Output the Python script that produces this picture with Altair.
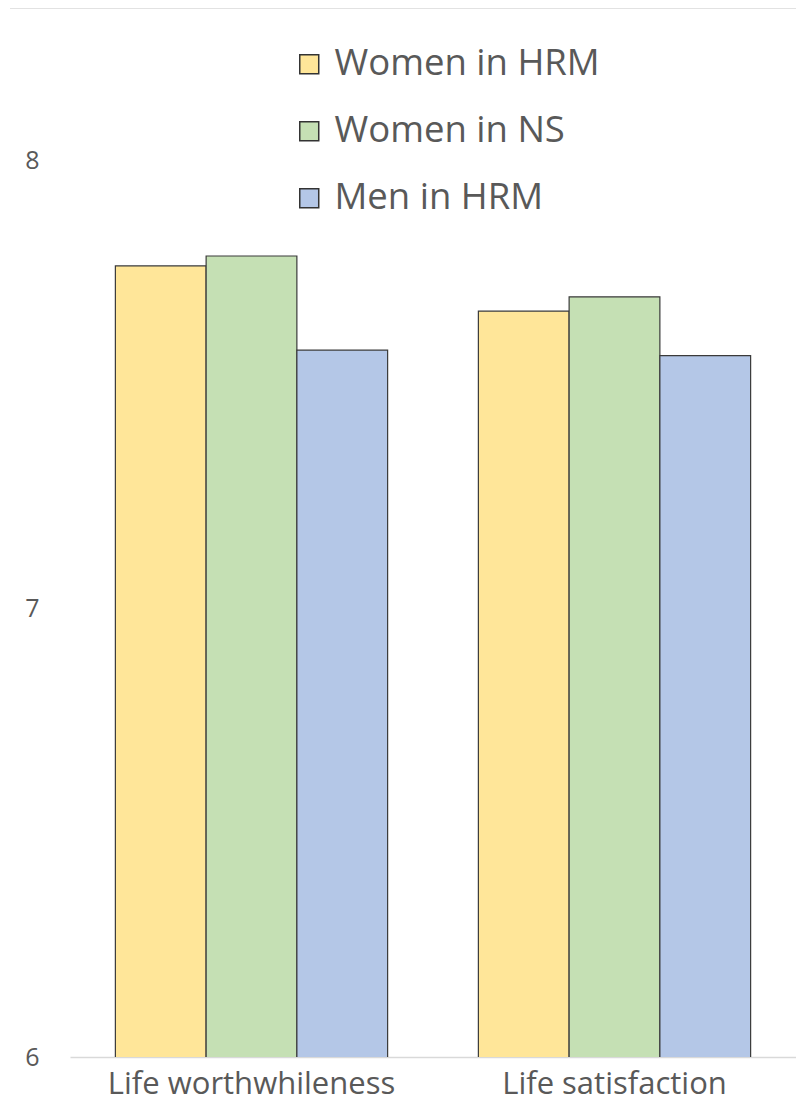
import altair as alt
import pandas as pd

categories = ["Life worthwhileness", "Life satisfaction"]
groups = ["Women in HRM", "Women in NS", "Men in HRM"]
women_hrm = [7.764, 7.663]
women_ns = [7.786, 7.695]
men_hrm = [7.576, 7.564]
colors = ["#FFE699", "#C5E0B4", "#B4C7E7"]
y_ticks = [6, 7, 8]

rows = []
for series, vals in zip(groups, [women_hrm, women_ns, men_hrm]):
    for c, v in zip(categories, vals):
        rows.append({"category": c, "group": series, "value": v})
df = pd.DataFrame(rows)

FONT = "Open Sans"
GRAY = "#595959"

bars = alt.Chart(df).mark_bar(stroke="#3a3a3a", strokeWidth=1.2, clip=True).encode(
    x=alt.X("category:N", sort=categories, title=None,
            scale=alt.Scale(paddingInner=0.25, paddingOuter=0.125),
            axis=alt.Axis(labelAngle=0, labelFontSize=31, labelFont=FONT,
                          labelColor=GRAY, ticks=False, domainColor="#D9D9D9",
                          domainWidth=1.5, labelPadding=12, labelLimit=400)),
    xOffset=alt.XOffset("group:N", sort=groups),
    y=alt.Y("value:Q", title=None,
            scale=alt.Scale(domain=[6, 8.339], nice=False, zero=False),
            axis=alt.Axis(values=y_ticks, grid=False, domain=False, ticks=False,
                          labelFontSize=25, labelFont=FONT, labelColor=GRAY,
                          labelPadding=31)),
    color=alt.Color("group:N", sort=groups,
                    scale=alt.Scale(domain=groups, range=colors),
                    legend=alt.Legend(title=None, orient="none", legendX=221,
                                      legendY=38, symbolType="square",
                                      symbolSize=360, symbolStrokeColor="#333333",
                                      symbolStrokeWidth=1.5, labelFontSize=36.5,
                                      labelFont=FONT, labelColor=GRAY,
                                      labelLimit=500,
                                      rowPadding=30, labelOffset=7, padding=0)),
)

top_line = alt.Chart(pd.DataFrame({"k": [0]})).mark_rule(
    color="#D9D9D9", strokeWidth=1.5
).encode(x=alt.value(-60), x2=alt.value(740), y=alt.value(0))

chart = alt.layer(bars, top_line).properties(
    width=726, height=1049,
    autosize=alt.AutoSizeParams(type="none"),
    padding={"left": 62, "top": 0, "right": 0, "bottom": 48},
).configure_view(stroke=None)

chart.save("out.html", embed_options={"renderer": "svg", "actions": False})
